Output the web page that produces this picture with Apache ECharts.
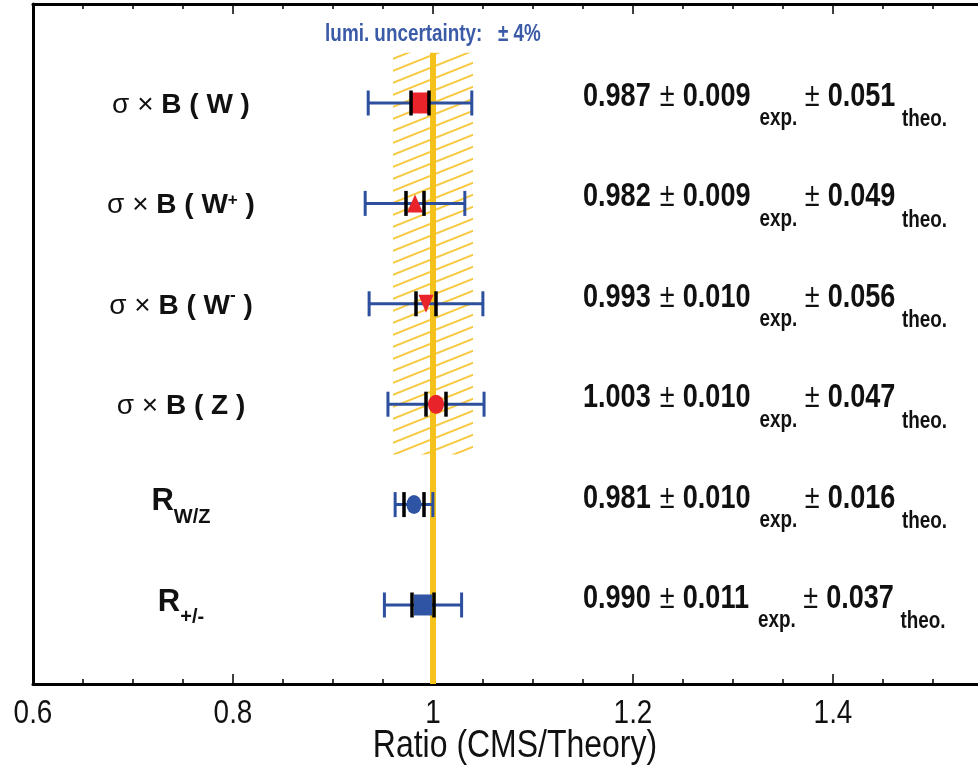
<!DOCTYPE html>
<html>
<head>
<meta charset="utf-8">
<script src="https://cdn.jsdelivr.net/npm/echarts@6/dist/echarts.min.js"></script>
<style>
  html, body { margin: 0; padding: 0; background: #ffffff; }
  #chart { width: 978px; height: 770px; }
</style>
</head>
<body>
<div id="chart"></div>
<script>
// Measured quantities, top to bottom (rich-text markup for sub/superscripts)
const rowLabels = [
  '{n|σ × }{b|B ( W )}',
  '{n|σ × }{b|B ( W}{sup|+}{b| )}',
  '{n|σ × }{b|B ( W}{supm|-}{b| )}',
  '{n|σ × }{b|B ( Z )}',
  '{R|R}{Rsub|W/Z}',
  '{R|R}{Rsub|+/-}'
];

// Ratio of measured to predicted value
const ratio = [0.987, 0.982, 0.993, 1.003, 0.981, 0.990];
// Experimental uncertainty
const errExp = [0.009, 0.009, 0.010, 0.010, 0.010, 0.011];
// Theoretical uncertainty
const errTheo = [0.051, 0.049, 0.056, 0.047, 0.016, 0.037];

// Luminosity uncertainty band (applies to the four cross sections, rows 0..3)
const lumiUnc = 0.04;
const lumiRows = [0, 3];
const lumiText = 'lumi. uncertainty:   ± 4%';

// Horizontal axis range, labelled ticks and title
const xMin = 0.6, xMax = 1.6, xStep = 0.2;
const xTickLabels = [0.6, 0.8, 1.0, 1.2, 1.4];
const xTitle = 'Ratio (CMS/Theory)';

// Marker look per row
const markerStyles = [
  { symbol: 'rect',     size: [18, 21], rotate: 0,   color: '#e8232a' },
  { symbol: 'triangle', size: [16, 18], rotate: 0,   color: '#e8232a' },
  { symbol: 'triangle', size: [15, 18], rotate: 180, color: '#e8232a' },
  { symbol: 'circle',   size: [16, 19], rotate: 0,   color: '#e8232a' },
  { symbol: 'circle',   size: [15, 19], rotate: 0,   color: '#2f54a3' },
  { symbol: 'rect',     size: [18, 21], rotate: 0,   color: '#2f54a3' }
];

const SANS = '"Liberation Sans", Arial, Helvetica, sans-serif';
const NARROW_SCALE = 0.82;   // condensed look of the narrow face
const INK = '#111111';
const BLUE = '#2c4f9e';
const GOLD = '#f4c21a';

// Diagonal hatching used for the luminosity band
function hatchTile() {
  const w = 30, h = 12;
  const c = document.createElement('canvas');
  c.width = w; c.height = h;
  const g = c.getContext('2d');
  g.strokeStyle = '#f6c93e';
  g.lineWidth = 2;
  for (let k = -1; k <= 1; k++) {
    g.beginPath();
    g.moveTo(-2, h + k * h + 2 * h / w);
    g.lineTo(w + 2, k * h - 2 * h / w);
    g.stroke();
  }
  return c;
}
const hatchFill = { image: hatchTile(), repeat: 'repeat' };

const rows = ratio.map((_, i) => i);
const yMin = -0.986, yMax = 5.787;
const labelX = 0.748;   // centre of the quantity names
const valueX = 1.15;    // left edge of the numeric results
const lumiLabelRow = -0.677;

function resultText(i) {
  return '{num|' + ratio[i].toFixed(3) + '}{pm|±}{num|' + errExp[i].toFixed(3) +
         '}{subE|exp.}{pm2|±}{num|' + errTheo[i].toFixed(3) + '}{subT|theo.}';
}

const nameRich = {
  n:    { fontFamily: SANS, fontSize: 28, fontWeight: 'normal', fill: INK, verticalAlign: 'top' },
  b:    { fontFamily: SANS, fontSize: 28, fontWeight: 'bold', fill: INK, verticalAlign: 'top' },
  sup:  { fontFamily: SANS, fontSize: 17, fontWeight: 'bold', fill: INK, verticalAlign: 'top' },
  supm: { fontFamily: SANS, fontSize: 17, fontWeight: 'bold', fill: INK, verticalAlign: 'top', height: 8 },
  R:    { fontFamily: SANS, fontSize: 31, fontWeight: 'bold', fill: INK, verticalAlign: 'top' },
  Rsub: { fontFamily: SANS, fontSize: 20, fontWeight: 'bold', fill: INK, verticalAlign: 'top', padding: [21, 0, 0, 0] }
};

const resultRich = {
  num:  { fontFamily: SANS, fontSize: 33, fontWeight: 'bold', fill: INK, verticalAlign: 'top' },
  pm:   { fontFamily: SANS, fontSize: 33, fontWeight: 'normal', fill: INK, verticalAlign: 'top', padding: [0, 10, 0, 11] },
  pm2:  { fontFamily: SANS, fontSize: 33, fontWeight: 'normal', fill: INK, verticalAlign: 'top', padding: [0, 10, 0, 9] },
  subE: { fontFamily: SANS, fontSize: 23, fontWeight: 'bold', fill: INK, verticalAlign: 'top', padding: [27, 0, 0, 11] },
  subT: { fontFamily: SANS, fontSize: 23, fontWeight: 'bold', fill: INK, verticalAlign: 'top', padding: [28, 0, 0, 8] }
};

const chart = echarts.init(document.getElementById('chart'), null, { renderer: 'canvas' });

const xAxisCommon = {
  type: 'value',
  min: xMin, max: xMax, interval: xStep,
  splitLine: { show: false },
  axisLabel: { show: false },
  axisLine: { show: true, onZero: false, lineStyle: { color: '#000', width: 3 } },
  axisTick: { show: true, inside: true, length: 10, lineStyle: { color: '#000', width: 1.5 } },
  minorTick: { show: true, splitNumber: 4, length: 5, lineStyle: { color: '#000', width: 1.5 } },
  minorSplitLine: { show: false }
};

chart.setOption({
  animation: false,
  backgroundColor: '#ffffff',
  grid: { left: 33, right: -55, top: 4, bottom: 86, containLabel: false, outerBoundsMode: 'none' },
  xAxis: [
    Object.assign({}, xAxisCommon, { position: 'bottom' }),
    Object.assign({}, xAxisCommon, { position: 'top' })
  ],
  yAxis: {
    type: 'value',
    min: yMin, max: yMax, inverse: true,
    axisLine: { show: true, onZero: false, lineStyle: { color: '#000', width: 3 } },
    axisTick: { show: false },
    axisLabel: { show: false },
    splitLine: { show: false }
  },
  graphic: [{
    type: 'text',
    x: 515, y: 746,
    scaleX: NARROW_SCALE,
    style: {
      text: xTitle, fill: INK,
      font: '39px ' + SANS,
      align: 'center', verticalAlign: 'middle'
    }
  }],
  series: [
    // luminosity band
    {
      type: 'custom', z: 1, silent: true,
      data: [[1 - lumiUnc, 1 + lumiUnc, lumiRows[0] - 0.5, lumiRows[1] + 0.5]],
      encode: { x: [0, 1], y: [2, 3] },
      renderItem: (params, api) => {
        const p0 = api.coord([api.value(0), api.value(2)]);
        const p1 = api.coord([api.value(1), api.value(3)]);
        return {
          type: 'rect',
          shape: { x: p0[0], y: p0[1], width: p1[0] - p0[0], height: p1[1] - p0[1] },
          style: { fill: hatchFill }
        };
      }
    },
    // reference line at ratio = 1
    {
      type: 'custom', z: 2, silent: true,
      data: [[1, lumiRows[0] - 0.5]],
      encode: { x: 0, y: 1 },
      renderItem: (params, api) => {
        const p = api.coord([api.value(0), api.value(1)]);
        const bottom = params.coordSys.y + params.coordSys.height;
        return {
          type: 'line',
          shape: { x1: p[0], y1: p[1], x2: p[0], y2: bottom },
          style: { stroke: GOLD, lineWidth: 6 }
        };
      }
    },
    // total uncertainty (exp. and theo. in quadrature)
    {
      type: 'custom', z: 3, silent: true,
      data: rows.map(i => [ratio[i], i, Math.hypot(errExp[i], errTheo[i])]),
      encode: { x: 0, y: 1 },
      renderItem: (params, api) => {
        const v = api.value(0), r = api.value(1), e = api.value(2);
        const a = api.coord([v - e, r]), b = api.coord([v + e, r]);
        const h = 12.5;
        const st = { stroke: BLUE, lineWidth: 3 };
        return {
          type: 'group',
          children: [
            { type: 'line', shape: { x1: a[0], y1: a[1], x2: b[0], y2: b[1] }, style: st },
            { type: 'line', shape: { x1: a[0], y1: a[1] - h, x2: a[0], y2: a[1] + h }, style: st },
            { type: 'line', shape: { x1: b[0], y1: b[1] - h, x2: b[0], y2: b[1] + h }, style: st }
          ]
        };
      }
    },
    // central values
    {
      type: 'scatter', z: 4, silent: true,
      data: rows.map(i => ({
        value: [ratio[i], i],
        symbol: markerStyles[i].symbol,
        symbolSize: markerStyles[i].size,
        symbolRotate: markerStyles[i].rotate,
        itemStyle: { color: markerStyles[i].color, opacity: 1 }
      })),
      emphasis: { disabled: true }
    },
    // experimental uncertainty markers
    {
      type: 'custom', z: 5, silent: true,
      data: rows.map(i => [ratio[i], i, errExp[i]]),
      encode: { x: 0, y: 1 },
      renderItem: (params, api) => {
        const v = api.value(0), r = api.value(1), e = api.value(2);
        const a = api.coord([v - e, r]), b = api.coord([v + e, r]);
        const h = 12.5;
        const st = { stroke: '#000', lineWidth: 3.5 };
        return {
          type: 'group',
          children: [
            { type: 'line', shape: { x1: a[0], y1: a[1] - h, x2: a[0], y2: a[1] + h }, style: st },
            { type: 'line', shape: { x1: b[0], y1: b[1] - h, x2: b[0], y2: b[1] + h }, style: st }
          ]
        };
      }
    },
    // quantity names
    {
      type: 'custom', z: 6, silent: true, clip: false,
      data: rows.map(i => [labelX, i]),
      encode: { x: 0, y: 1 },
      renderItem: (params, api) => {
        const p = api.coord([api.value(0), api.value(1)]);
        return {
          type: 'text', x: p[0], y: p[1] + 2,
          style: {
            text: rowLabels[params.dataIndex], rich: nameRich, fill: INK,
            align: 'center', verticalAlign: 'middle'
          }
        };
      }
    },
    // numeric results
    {
      type: 'custom', z: 6, silent: true, clip: false,
      data: rows.map(i => [valueX, i]),
      encode: { x: 0, y: 1 },
      renderItem: (params, api) => {
        const p = api.coord([api.value(0), api.value(1)]);
        return {
          type: 'text', x: p[0], y: p[1] + 3, scaleX: NARROW_SCALE,
          style: {
            text: resultText(params.dataIndex), rich: resultRich, fill: INK,
            align: 'left', verticalAlign: 'middle'
          }
        };
      }
    },
    // luminosity label
    {
      type: 'custom', z: 6, silent: true, clip: false,
      data: [[1, lumiLabelRow]],
      encode: { x: 0, y: 1 },
      renderItem: (params, api) => {
        const p = api.coord([api.value(0), api.value(1)]);
        return {
          type: 'text', x: p[0], y: p[1], scaleX: NARROW_SCALE,
          style: {
            text: lumiText, fill: '#3b5aa8',
            font: 'bold 23px ' + SANS,
            align: 'center', verticalAlign: 'middle'
          }
        };
      }
    },
    // tick labels along the ratio axis
    {
      type: 'custom', z: 6, silent: true, clip: false,
      data: xTickLabels.map(v => [v, yMax]),
      encode: { x: 0, y: 1 },
      renderItem: (params, api) => {
        const v = api.value(0);
        const p = api.coord([v, api.value(1)]);
        return {
          type: 'text', x: p[0], y: p[1] + 13, scaleX: NARROW_SCALE,
          style: {
            text: String(Math.round(v * 10) / 10), fill: INK,
            font: '34px ' + SANS,
            align: 'center', verticalAlign: 'top'
          }
        };
      }
    }
  ]
});
</script>
</body>
</html>
